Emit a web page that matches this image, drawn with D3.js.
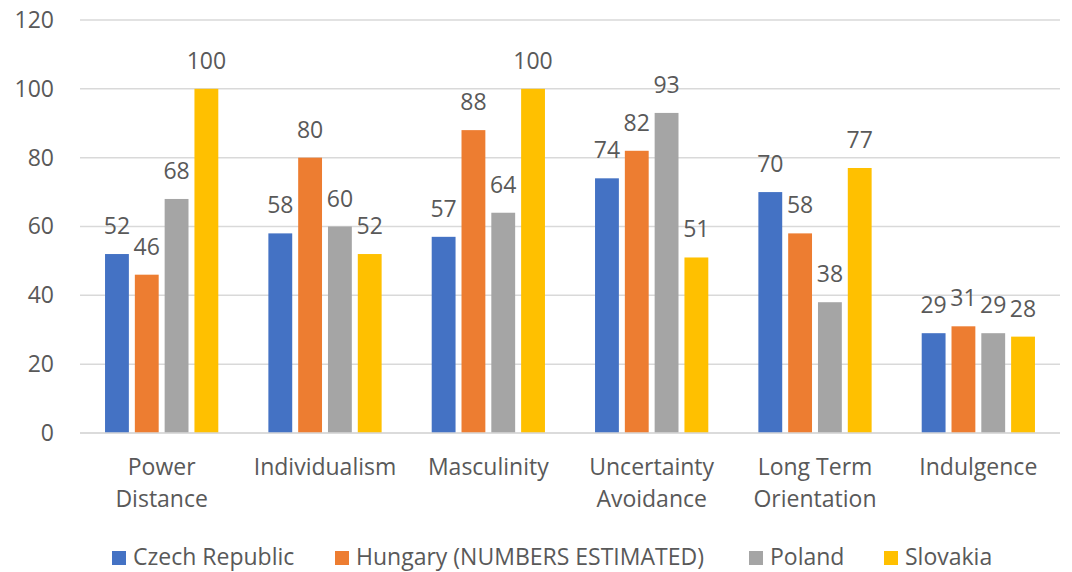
<!DOCTYPE html>
<html>
<head>
<meta charset="utf-8">
<script src="https://cdn.jsdelivr.net/npm/d3@7"></script>
<style>
  html, body { margin: 0; padding: 0; background: #ffffff; }
  svg { display: block; }
  text { font-family: "Open Sans", "Noto Sans", sans-serif; fill: #595959; }
</style>
</head>
<body>
<svg id="chart" width="1072" height="572"></svg>
<script>
// Hofstede cultural dimension scores for the Visegrád countries
const categories = [
  ["Power", "Distance"],
  ["Individualism"],
  ["Masculinity"],
  ["Uncertainty", "Avoidance"],
  ["Long Term", "Orientation"],
  ["Indulgence"]
];
const seriesNames = ["Czech Republic", "Hungary (NUMBERS ESTIMATED)", "Poland", "Slovakia"];
const czech    = [52, 58, 57, 74, 70, 29];
const hungary  = [46, 80, 88, 82, 58, 31];
const poland   = [68, 60, 64, 93, 38, 29];
const slovakia = [100, 52, 100, 51, 77, 28];
const yTicks = [0, 20, 40, 60, 80, 100, 120];
const colors = ["#4472C4", "#ED7D31", "#A5A5A5", "#FFC000"];

const seriesValues = [czech, hungary, poland, slovakia];
const svg = d3.select("#chart");
const fontSize = 23;

const plot = { left: 80, right: 1060, top: 20, bottom: 433 };
const catKeys = categories.map(c => c.join(" "));

const x0 = d3.scaleBand().domain(catKeys).range([plot.left, plot.right]).paddingInner(0).paddingOuter(0);
const x1 = d3.scaleBand().domain(seriesNames).range([0, x0.bandwidth()]).paddingInner(0.2).paddingOuter(0.84);
const y = d3.scaleLinear().domain([0, 120]).range([plot.bottom, plot.top]);

// horizontal gridlines
svg.append("g")
  .selectAll("line")
  .data(yTicks)
  .join("line")
  .attr("x1", plot.left).attr("x2", plot.right)
  .attr("y1", d => y(d)).attr("y2", d => y(d))
  .attr("stroke", "#d9d9d9")
  .attr("stroke-width", 1.5);

// y tick labels
const yAxis = d3.axisLeft(y).tickValues(yTicks).tickSize(0).tickPadding(0);
const yg = svg.append("g").attr("transform", `translate(54,0)`).call(yAxis);
yg.select(".domain").remove();
yg.selectAll("text")
  .attr("font-size", fontSize)
  .attr("font-family", "'Open Sans', 'Noto Sans', sans-serif")
  .attr("fill", "#595959");

// bars grouped by category
const groups = svg.append("g")
  .selectAll("g")
  .data(catKeys)
  .join("g")
  .attr("transform", d => `translate(${x0(d)},0)`);

groups.selectAll("rect")
  .data((d, i) => seriesNames.map((s, j) => ({ s, v: seriesValues[j][i], c: colors[j] })))
  .join("rect")
  .attr("x", d => x1(d.s))
  .attr("width", x1.bandwidth())
  .attr("y", d => y(d.v))
  .attr("height", d => y(0) - y(d.v))
  .attr("fill", d => d.c);

// value labels above bars
groups.selectAll("text.val")
  .data((d, i) => seriesNames.map((s, j) => ({ s, v: seriesValues[j][i] })))
  .join("text")
  .attr("class", "val")
  .attr("x", d => x1(d.s) + x1.bandwidth() / 2)
  .attr("y", d => y(d.v) - 20)
  .attr("text-anchor", "middle")
  .attr("font-size", fontSize)
  .text(d => d.v);

// category axis line
svg.append("line")
  .attr("x1", plot.left).attr("x2", plot.right)
  .attr("y1", y(0)).attr("y2", y(0))
  .attr("stroke", "#d9d9d9")
  .attr("stroke-width", 1.5);

// category labels (may wrap onto two lines)
const catLabels = svg.append("g")
  .selectAll("text")
  .data(categories)
  .join("text")
  .attr("text-anchor", "middle")
  .attr("font-size", fontSize)
  .attr("x", (d, i) => x0(catKeys[i]) + x0.bandwidth() / 2)
  .attr("y", 475);
catLabels.selectAll("tspan")
  .data(d => d)
  .join("tspan")
  .attr("x", function () { return d3.select(this.parentNode).attr("x"); })
  .attr("dy", (d, i) => i === 0 ? 0 : 32)
  .text(d => d);

// legend
const legendX = [112, 335, 749, 884];
const legend = svg.append("g")
  .selectAll("g")
  .data(seriesNames)
  .join("g")
  .attr("transform", (d, i) => `translate(${legendX[i]},551)`);
legend.append("rect")
  .attr("width", 14).attr("height", 14)
  .attr("fill", (d, i) => colors[i]);
legend.append("text")
  .attr("x", 21).attr("y", 14)
  .attr("font-size", fontSize)
  .text(d => d);
</script>
</body>
</html>
